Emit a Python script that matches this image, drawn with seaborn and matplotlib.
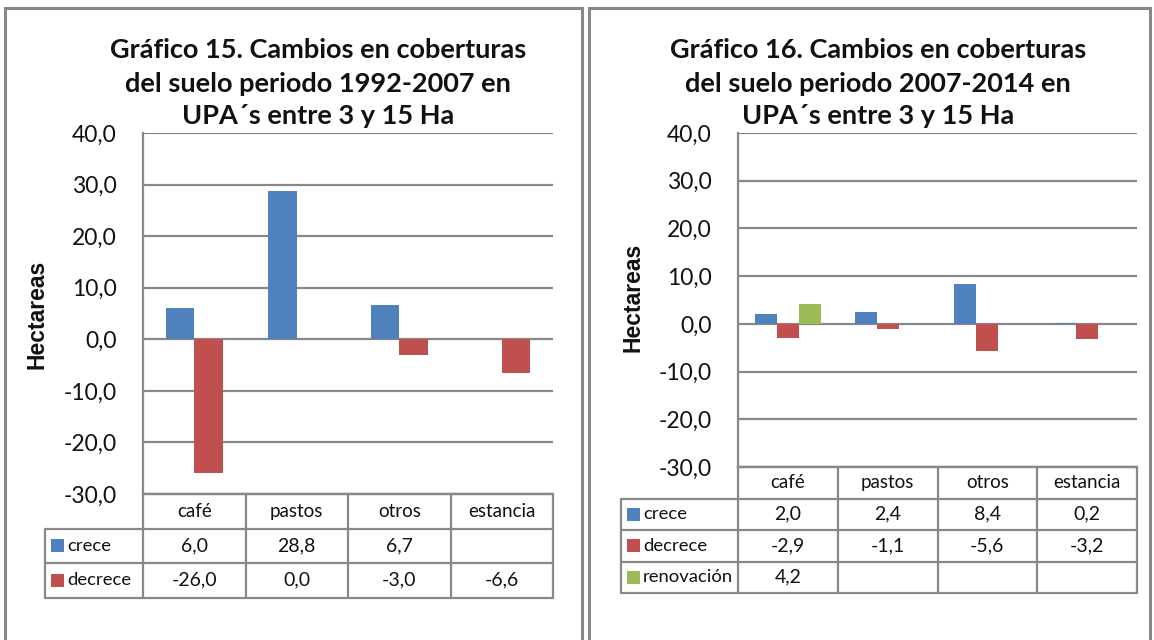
import numpy as np
import pandas as pd
import matplotlib.pyplot as plt
import seaborn as sns
from matplotlib.lines import Line2D
from matplotlib.patches import Rectangle

# Data
categorias = ['café', 'pastos', 'otros', 'estancia']

series_15 = ['crece', 'decrece']
crece_15 = [6.0, 28.8, 6.7, np.nan]
decrece_15 = [-26.0, 0.0, -3.0, -6.6]

series_16 = ['crece', 'decrece', 'renovación']
crece_16 = [2.0, 2.4, 8.4, 0.2]
decrece_16 = [-2.9, -1.1, -5.6, -3.2]
renovacion_16 = [4.2, np.nan, np.nan, np.nan]

titulo_15 = ['Gráfico 15. Cambios en coberturas', 'del suelo periodo 1992-2007 en',
             'UPA´s entre 3 y 15 Ha']
titulo_16 = ['Gráfico 16. Cambios en coberturas', 'del suelo periodo 2007-2014 en',
             'UPA´s entre 3 y 15 Ha']
eje_y = 'Hectareas'
y_ticks = [-30, -20, -10, 0, 10, 20, 30, 40]

colores = {'crece': '#4F81BD', 'decrece': '#C0504D', 'renovación': '#9BBB59'}
gris = '#888888'

W, H = 1154, 640
sns.set_style('white')
plt.rcParams['font.family'] = ['Lato', 'DejaVu Sans']

fig = plt.figure(figsize=(W / 100, H / 100), dpi=100)


def fx(x):
    return x / W


def fy(y):
    return 1 - y / H


def fmt(v):
    return '' if pd.isna(v) else f'{v:.1f}'.replace('.', ',')


def panel(box, series, valores, ancho, leg_left, row_h, titulo, t_x, yl_xy):
    l, t, r, b = box
    ax = fig.add_axes([fx(l), fy(b), fx(r - l), (b - t) / H])
    df = pd.DataFrame({
        'categoria': categorias * len(series),
        'serie': [s for s in series for _ in categorias],
        'valor': [v for vals in valores for v in vals],
    })
    sns.barplot(data=df, x='categoria', y='valor', hue='serie', order=categorias,
                hue_order=series, palette=colores, width=ancho, gap=0,
                saturation=1, linewidth=0, legend=False, ax=ax, errorbar=None)
    ax.set_xlim(-0.5, 3.5)
    ax.set_ylim(-30, 40)
    ax.set_yticks(y_ticks)
    ax.set_yticklabels([fmt(v) for v in y_ticks], fontsize=16.5, color='#111111')
    ax.set_xticks([])
    ax.set_xlabel('')
    ax.set_ylabel('')
    ax.yaxis.grid(True, color=gris, lw=1.6)
    ax.set_axisbelow(True)
    ax.tick_params(axis='y', length=0, pad=19)
    for s in ['top', 'right']:
        ax.spines[s].set_visible(False)
    for s in ['left', 'bottom']:
        ax.spines[s].set_color(gris)
        ax.spines[s].set_linewidth(1.6)

    # title (one text per line) and axis label
    for linea, y in zip(titulo, [50, 84, 116]):
        fig.text(fx(t_x), fy(y), linea, ha='center', va='center',
                 fontsize=19.5, fontweight='bold', color='#111111')
    fig.text(fx(yl_xy[0]), fy(yl_xy[1]), eje_y, ha='center', va='center',
             rotation=90, fontsize=16.5, fontweight='bold',
             family='Liberation Sans', color='#111111')

    # data table below the plot
    colw = (r - l) / len(categorias)
    bottom = b + row_h * (len(series) + 1)

    def line(x0, y0, x1, y1):
        fig.add_artist(Line2D([fx(x0), fx(x1)], [fy(y0), fy(y1)], color=gris, lw=1.6))

    line(l, b, r, b)
    for i in range(len(series) + 1):
        line(leg_left, b + row_h * (i + 1), r, b + row_h * (i + 1))
    line(leg_left, b + row_h, leg_left, bottom)
    for k in range(len(categorias) + 1):
        line(l + k * colw, b, l + k * colw, bottom)

    for k, cat in enumerate(categorias):
        fig.text(fx(l + (k + 0.5) * colw), fy(b + row_h / 2), cat, ha='center',
                 va='center', fontsize=13.5, color='#111111')
    for i, (s, vals) in enumerate(zip(series, valores)):
        yc = b + row_h * (i + 1.5)
        fig.add_artist(Rectangle((fx(leg_left + 6), fy(yc + 6.5)), 13 / W, 13 / H,
                                 color=colores[s], lw=0))
        fig.text(fx(leg_left + 22), fy(yc), s, ha='left', va='center',
                 fontsize=13.3, color='#111111')
        for k, v in enumerate(vals):
            fig.text(fx(l + (k + 0.5) * colw), fy(yc), fmt(v), ha='center',
                     va='center', fontsize=14, color='#111111')
    return ax


panel((143, 133, 553, 494), series_15, [crece_15, decrece_15], 0.56, 45, 34.5,
      titulo_15, 318, (37, 314))
panel((738, 133, 1137, 467), series_16, [crece_16, decrece_16, renovacion_16], 0.66,
      621, 31.5, titulo_16, 878, (633, 297))

# panel frames
for x0, x1 in [(5, 582), (589, 1150)]:
    fig.add_artist(Rectangle((fx(x0), fy(660)), fx(x1 - x0), (660 - 8) / H,
                             fill=False, edgecolor=gris, lw=2.2))

fig.savefig('out.png', dpi=100)
